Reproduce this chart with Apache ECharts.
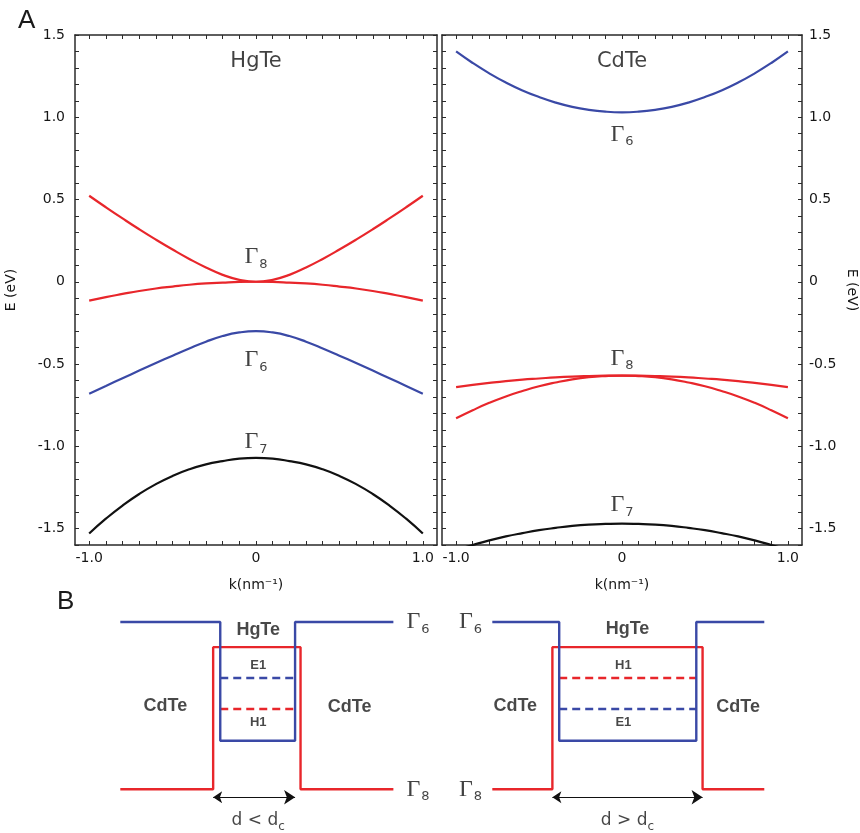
<!DOCTYPE html>
<html>
<head>
<meta charset="utf-8">
<title>HgTe / CdTe band structure</title>
<script src="https://cdn.jsdelivr.net/npm/echarts@6/dist/echarts.min.js"></script>
<style>
  html, body { margin: 0; padding: 0; background: #ffffff; }
  #chart { width: 860px; height: 833px; }
</style>
</head>
<body>
<div id="chart"></div>
<script>
// ---- Panel A: bulk band dispersions, E (eV) versus k (nm^-1) ----
const kValues = [-1.0, -0.9, -0.8, -0.7, -0.6, -0.5, -0.4, -0.3, -0.2, -0.1, 0,
                 0.1, 0.2, 0.3, 0.4, 0.5, 0.6, 0.7, 0.8, 0.9, 1.0];

// HgTe bands
const hgGamma8Upper = [0.523, 0.453, 0.385, 0.319, 0.256, 0.196, 0.139, 0.087, 0.042, 0.012, 0,
                       0.012, 0.042, 0.087, 0.139, 0.196, 0.256, 0.319, 0.385, 0.453, 0.523];
const hgGamma8Lower = [-0.115, -0.093, -0.074, -0.056, -0.041, -0.029, -0.018, -0.010, -0.005, -0.001, 0,
                       -0.001, -0.005, -0.010, -0.018, -0.029, -0.041, -0.056, -0.074, -0.093, -0.115];
const hgGamma6 = [-0.680, -0.633, -0.586, -0.540, -0.494, -0.449, -0.405, -0.364, -0.330, -0.308, -0.30,
                  -0.308, -0.330, -0.364, -0.405, -0.449, -0.494, -0.540, -0.586, -0.633, -0.680];
const hgGamma7 = [-1.53, -1.44, -1.36, -1.29, -1.23, -1.18, -1.14, -1.11, -1.09, -1.075, -1.07,
                  -1.075, -1.09, -1.11, -1.14, -1.18, -1.23, -1.29, -1.36, -1.44, -1.53];

// CdTe bands
const cdGamma6 = [1.400, 1.330, 1.267, 1.211, 1.163, 1.123, 1.089, 1.063, 1.045, 1.034, 1.03,
                  1.034, 1.045, 1.063, 1.089, 1.123, 1.163, 1.211, 1.267, 1.330, 1.400];
const cdGamma8Upper = [-0.640, -0.627, -0.615, -0.604, -0.595, -0.588, -0.581, -0.576, -0.573, -0.571, -0.57,
                       -0.571, -0.573, -0.576, -0.581, -0.588, -0.595, -0.604, -0.615, -0.627, -0.640];
const cdGamma8Lower = [-0.830, -0.781, -0.736, -0.697, -0.664, -0.635, -0.612, -0.593, -0.580, -0.573, -0.57,
                       -0.573, -0.580, -0.593, -0.612, -0.635, -0.664, -0.697, -0.736, -0.781, -0.830];
const cdGamma7 = [-1.630, -1.600, -1.572, -1.548, -1.528, -1.510, -1.496, -1.484, -1.476, -1.472, -1.47,
                  -1.472, -1.476, -1.484, -1.496, -1.510, -1.528, -1.548, -1.572, -1.600, -1.630];

// Axis ticks and labels
const kLabelValues = [-1.0, 0, 1.0];
const eLabelValues = [-1.5, -1.0, -0.5, 0, 0.5, 1.0, 1.5];
const kRange = [-1.085, 1.085];
const eRange = [-1.6, 1.5];

// Band names drawn next to each band: [k, E, subscript]
const hgBandNames = [[0, 0.15, '8'], [0, -0.475, '6'], [0, -0.975, '7']];
const cdBandNames = [[0, 0.895, '6'], [0, -0.465, '8'], [0, -1.355, '7']];
const panelTitles = ['HgTe', 'CdTe'];
const panelTitleE = 1.34;

// ---- Panel B: quantum-well band-edge profiles (schematic units) ----
// position across the CdTe/HgTe/CdTe stack 0..100, band edge energy 0..100
const thinGamma6 = [[0, 100], [36.6, 100], [36.6, 29], [64, 29], [64, 100], [100, 100]];
const thinGamma8 = [[0, 0], [34, 0], [34, 85], [66, 85], [66, 0], [100, 0]];
const thinE1 = [[36.6, 66.5], [64, 66.5]];
const thinH1 = [[36.6, 48], [64, 48]];
const thinWidth = [[34, -4.8], [64, -4.8]];

const thickGamma6 = [[0, 100], [24.5, 100], [24.5, 29], [74.7, 29], [74.7, 100], [99.6, 100]];
const thickGamma8 = [[0, 0], [22, 0], [22, 85], [77, 85], [77, 0], [99.6, 0]];
const thickH1 = [[24.5, 66.5], [74.7, 66.5]];
const thickE1 = [[24.5, 48], [74.7, 48]];
const thickWidth = [[22, -4.8], [77, -4.8]];

// Text in the well diagrams: [x, E, text, kind]
const thinLabels = [
  [50.5, 95, 'HgTe', 'layer'], [50.5, 74, 'E1', 'level'], [50.5, 40, 'H1', 'level'],
  [16.5, 50, 'CdTe', 'layer'], [84, 49, 'CdTe', 'layer'],
  [109, 100, '6', 'gamma'], [109, 0, '8', 'gamma'], [50.5, -18.5, 'd < d', 'width']
];
const thickLabels = [
  [49.5, 96, 'HgTe', 'layer'], [48, 74, 'H1', 'level'], [48, 40, 'E1', 'level'],
  [8.4, 50, 'CdTe', 'layer'], [90, 49, 'CdTe', 'layer'],
  [-8, 100, '6', 'gamma'], [-8, 0, '8', 'gamma'], [49.5, -18.5, 'd > d', 'width']
];

// ---- styling ----
const RED = '#e8262b';
const BLUE = '#3a49a6';
const BLACK = '#111111';
const AXIS = '#2a2a2a';
const TEXT = '#161616';
const SANS = 'DejaVu Sans';

const kTicks = [];
for (let i = -10; i <= 10; i++) kTicks.push(i / 10);
const eTicks = [];
for (let i = -16; i <= 15; i++) eTicks.push(i / 10);

function fmt(v) {
  return Math.abs(v) < 1e-9 ? '0' : v.toFixed(1);
}

const gammaRich = {
  g: { fontFamily: 'Liberation Serif', fontSize: 24, color: BLACK, lineHeight: 26 },
  s: { fontFamily: SANS, fontSize: 13, color: BLACK, verticalAlign: 'bottom', lineHeight: 26, padding: [0, 0, -1, 1] }
};

function xAxisFor(gridIndex, top) {
  return {
    type: 'value', gridIndex: gridIndex, position: top ? 'top' : 'bottom',
    min: kRange[0], max: kRange[1],
    axisLine: { show: true, onZero: false, lineStyle: { color: AXIS, width: 1.5 } },
    axisTick: { show: true, inside: true, length: 4, customValues: kTicks, lineStyle: { color: AXIS, width: 1 } },
    axisLabel: {
      show: !top, customValues: kLabelValues, formatter: fmt, margin: 6,
      fontFamily: SANS, fontSize: 14, color: TEXT
    },
    splitLine: { show: false },
    name: top ? '' : 'k(nm⁻¹)', nameLocation: 'middle', nameGap: 33,
    nameTextStyle: { fontFamily: SANS, fontSize: 14, color: TEXT }
  };
}

function yAxisFor(gridIndex, right, labelled) {
  return {
    type: 'value', gridIndex: gridIndex, position: right ? 'right' : 'left',
    min: eRange[0], max: eRange[1],
    axisLine: { show: true, onZero: false, lineStyle: { color: AXIS, width: 1.5 } },
    axisTick: { show: true, inside: true, length: 4, customValues: eTicks, lineStyle: { color: AXIS, width: 1 } },
    axisLabel: {
      show: labelled, customValues: eLabelValues, formatter: fmt, margin: right ? 7 : 10,
      fontFamily: SANS, fontSize: 14, color: TEXT
    },
    splitLine: { show: false },
    name: labelled ? 'E (eV)' : '', nameLocation: 'middle',
    nameGap: right ? 43 : 57, nameRotate: right ? -90 : 90,
    nameTextStyle: { fontFamily: SANS, fontSize: 14, color: TEXT }
  };
}

function hiddenAxis(gridIndex, min, max) {
  return { type: 'value', gridIndex: gridIndex, min: min, max: max, show: false };
}

function band(values, color, xi, yi) {
  return {
    type: 'line', xAxisIndex: xi, yAxisIndex: yi,
    data: kValues.map((k, i) => [k, values[i]]),
    smooth: true, symbol: 'none', clip: true,
    lineStyle: { color: color, width: 2.2 }, silent: true, z: 3
  };
}

function bandNameSeries(names, title, xi, yi) {
  const data = names.map(n => ({
    value: [n[0], n[1]],
    label: { formatter: '{g|Γ}{s|' + n[2] + '}', rich: gammaRich }
  }));
  data.push({
    value: [0, panelTitleE],
    label: { formatter: title, fontFamily: SANS, fontSize: 21, color: BLACK }
  });
  return {
    type: 'scatter', xAxisIndex: xi, yAxisIndex: yi, symbolSize: 0, silent: true,
    data: data, label: { show: true, position: 'inside' }, z: 5
  };
}

function edge(points, color, xi, yi, dashed) {
  return {
    type: 'line', xAxisIndex: xi, yAxisIndex: yi, data: points,
    symbol: 'none', silent: true, clip: false,
    lineStyle: { color: color, width: 2.4, type: dashed ? [8, 5] : 'solid' }, z: dashed ? 2 : 3
  };
}

function widthArrow(points, xi, yi) {
  return {
    type: 'lines', coordinateSystem: 'cartesian2d', xAxisIndex: xi, yAxisIndex: yi,
    symbol: ['arrow', 'arrow'], symbolSize: [9, 11], silent: true,
    lineStyle: { color: BLACK, width: 1.2, opacity: 1 },
    data: [{ coords: points }]
  };
}

function wellLabels(items, xi, yi) {
  const data = items.map(it => {
    const kind = it[3];
    let label;
    if (kind === 'gamma') {
      label = { formatter: '{g|Γ}{s|' + it[2] + '}', rich: gammaRich };
    } else if (kind === 'width') {
      label = {
        formatter: '{n|' + it[2] + '}{s|c}',
        rich: {
          n: { fontFamily: SANS, fontSize: 17, color: TEXT, lineHeight: 22 },
          s: { fontFamily: SANS, fontSize: 12, color: TEXT, verticalAlign: 'bottom', lineHeight: 22, padding: [0, 0, -2, 0] }
        }
      };
    } else if (kind === 'level') {
      label = { formatter: it[2], fontFamily: 'Liberation Sans', fontWeight: 'bold', fontSize: 13, color: '#1a1a1a' };
    } else {
      label = { formatter: it[2], fontFamily: 'Liberation Sans', fontWeight: 'bold', fontSize: 18, color: '#1a1a1a' };
    }
    return { value: [it[0], it[1]], label: label };
  });
  return {
    type: 'scatter', xAxisIndex: xi, yAxisIndex: yi, symbolSize: 0, silent: true, clip: false,
    data: data, label: { show: true, position: 'inside' }, z: 6
  };
}

const chart = echarts.init(document.getElementById('chart'), null, { renderer: 'canvas' });

chart.setOption({
  backgroundColor: '#ffffff',
  animation: false,
  title: [
    { text: 'A', left: 13, top: 3, textStyle: { fontFamily: 'Liberation Sans', fontWeight: 'normal', fontSize: 26, color: '#1a1a1a' } },
    { text: 'B', left: 52, top: 584, textStyle: { fontFamily: 'Liberation Sans', fontWeight: 'normal', fontSize: 26, color: '#1a1a1a' } }
  ],
  grid: [
    { left: 75, top: 35, width: 362, height: 510 },
    { left: 442, top: 35, width: 363, height: 510 },
    { left: 93, top: 597, width: 355, height: 234 },
    { left: 465, top: 597, width: 355, height: 234 }
  ],
  xAxis: [
    xAxisFor(0, false), xAxisFor(0, true),
    xAxisFor(1, false), xAxisFor(1, true),
    hiddenAxis(2, -10, 120), hiddenAxis(3, -10, 120)
  ],
  yAxis: [
    yAxisFor(0, false, true), yAxisFor(0, true, false),
    yAxisFor(1, false, false), yAxisFor(1, true, true),
    hiddenAxis(2, -25, 115), hiddenAxis(3, -25, 115)
  ],
  series: [
    band(hgGamma7, BLACK, 0, 0),
    band(hgGamma6, BLUE, 0, 0),
    band(hgGamma8Lower, RED, 0, 0),
    band(hgGamma8Upper, RED, 0, 0),
    bandNameSeries(hgBandNames, panelTitles[0], 0, 0),

    band(cdGamma7, BLACK, 2, 3),
    band(cdGamma6, BLUE, 2, 3),
    band(cdGamma8Lower, RED, 2, 3),
    band(cdGamma8Upper, RED, 2, 3),
    bandNameSeries(cdBandNames, panelTitles[1], 2, 3),

    edge(thinGamma8, RED, 4, 4, false),
    edge(thinGamma6, BLUE, 4, 4, false),
    edge(thinE1, BLUE, 4, 4, true),
    edge(thinH1, RED, 4, 4, true),
    widthArrow(thinWidth, 4, 4),
    wellLabels(thinLabels, 4, 4),

    edge(thickGamma8, RED, 5, 5, false),
    edge(thickGamma6, BLUE, 5, 5, false),
    edge(thickH1, RED, 5, 5, true),
    edge(thickE1, BLUE, 5, 5, true),
    widthArrow(thickWidth, 5, 5),
    wellLabels(thickLabels, 5, 5)
  ]
});
</script>
</body>
</html>
